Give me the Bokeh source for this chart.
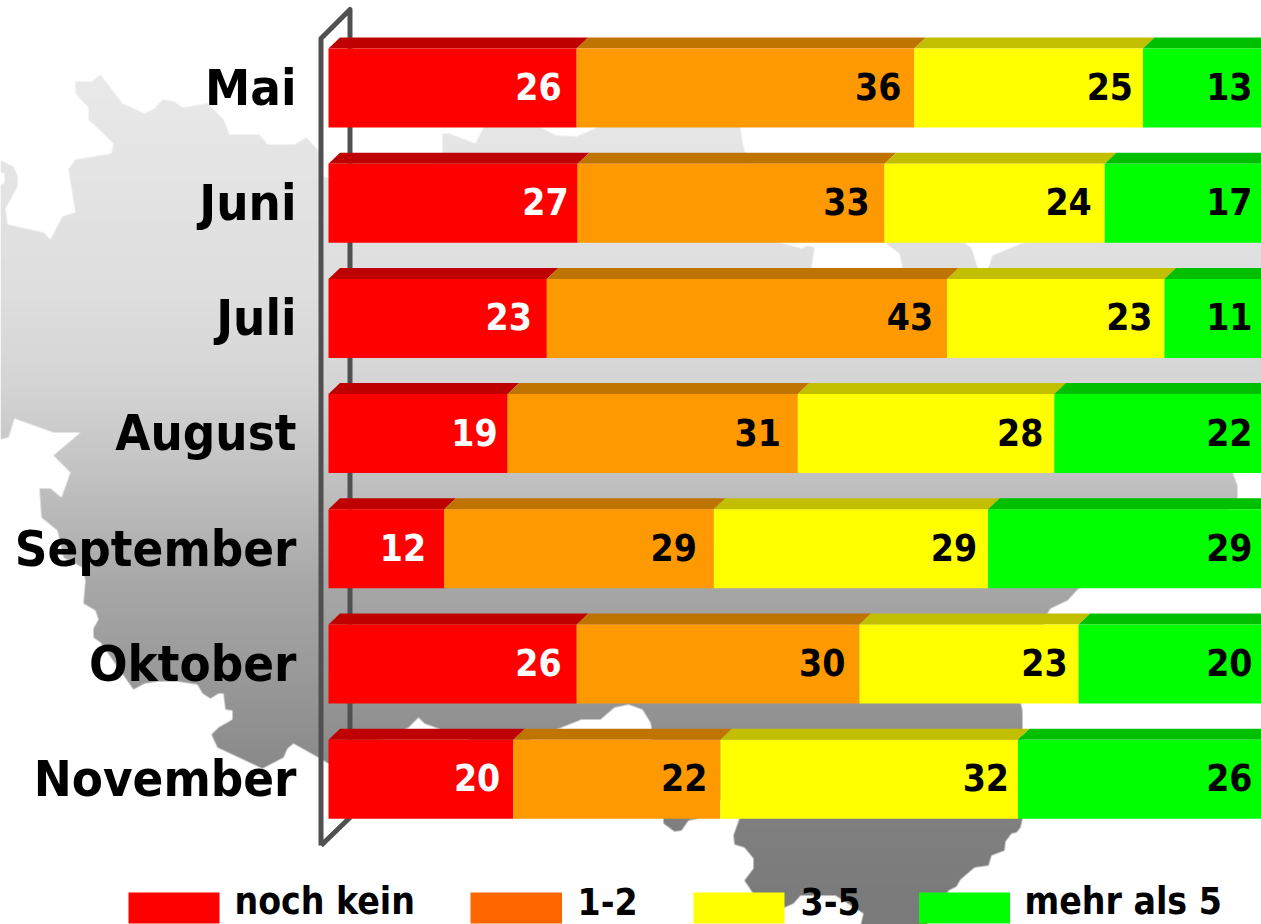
import numpy as np
from bokeh.plotting import figure
from bokeh.models import Range1d
from bokeh.core.properties import value
from bokeh.embed import file_html
from bokeh.resources import INLINE

months = ["Mai", "Juni", "Juli", "August", "September", "Oktober", "November"]
series_names = ["noch kein", "1-2", "3-5", "mehr als 5"]

# segment lengths as drawn (percent of the bar)
noch_kein = [26.6, 26.7, 23.4, 19.2, 12.4, 26.6, 19.8]
eins_zwei = [36.2, 32.9, 42.9, 31.1, 28.9, 30.3, 22.2]
drei_fuenf = [24.5, 23.6, 23.3, 27.5, 29.4, 23.5, 31.9]
mehr_fuenf = [12.7, 16.8, 10.4, 22.2, 29.3, 19.6, 26.1]

# printed labels
lab_noch_kein = [26, 27, 23, 19, 12, 26, 20]
lab_eins_zwei = [36, 33, 43, 31, 29, 30, 22]
lab_drei_fuenf = [25, 24, 23, 28, 29, 23, 32]
lab_mehr_fuenf = [13, 17, 11, 22, 29, 20, 26]

front_colors = ["#FF0000", "#FF9900", "#FFFF00", "#00FF00"]
top_colors = ["#BF0000", "#BF7300", "#C2BF00", "#00BF00"]
legend_colors = ["#FF0000", "#FF6600", "#FFFF00", "#00FF00"]

FONT = "DejaVu Sans Condensed"
W, H = 1261, 924
X0, PX_PER_PCT = 328.0, 9.33
Y0, PX_PER_ROW = 87.5, 115.2
BAR_H = 79 / PX_PER_ROW
DX_TOP, DY_TOP = 11.5 / PX_PER_PCT, 11 / PX_PER_ROW
BASELINE_FIX = 0.39  # em, lifts the text onto its baseline in the svg output

# gap between a value label and the end of its segment, in pixels
label_gaps = [
    [15, 9, 15, 10, 18, 15, 13],
    [13, 15, 14, 17, 17, 14, 13],
    [10, 13, 12, 11, 11, 11, 9],
    [9, 9, 9, 9, 9, 9, 9],
]

# decorative map silhouette, in page pixels
map_outline = [
    (75,81),(91,81),(100,74),(122,103),(144,113),(154,108),(162,99),(174,101),(182,107),(207,103),
    (223,119),(229,134),(259,134),(267,144),(294,144),(306,137),(318,150),(323,177),(345,177),(430,165),
    (442,153),(442,133),(449,133),(475,143),(483,127),(490,100),(530,100),(540,127),(556,135),(576,136),
    (597,127),(620,100),(700,100),(740,127),(742,143),(745,153),(760,200),(776,241),(801,248),(807,245),
    (814,247),(811,267),(815,300),(880,300),(902,267),(899,253),(883,241),(885,220),(940,220),(963,241),
    (971,248),(977,267),(981,280),(985,280),(988,267),(992,255),(1026,241),(1100,215),(1270,200),(1270,440),
    (1232,472),(1237,485),(1237,497),(1200,560),(1078,588),(1067,600),(1050,608),(1047,613),(1030,660),(1020,702),
    (1022,710),(1022,818),(1020,827),(1016,832),(1011,833),(1005,841),(1004,850),(991,855),(988,865),(974,867),
    (960,879),(956,886),(948,890),(947,892),(930,910),(925,930),(859,930),(863,913),(835,895),(800,895),
    (793,903),(784,907),(760,900),(752,892),(744,880),(753,868),(753,858),(744,847),(734,844),(733,835),
    (739,818),(735,800),(700,800),(698,818),(688,820),(681,830),(674,831),(663,823),(663,818),(655,770),
    (651,727),(650,722),(642,709),(628,704),(614,707),(600,719),(581,719),(561,727),(500,750),(435,727),
    (424,723),(418,717),(408,727),(370,745),(328,763),(318,757),(293,743),(287,748),(283,757),(262,768),
    (217,747),(211,734),(218,727),(232,719),(232,710),(225,709),(223,693),(218,693),(210,698),(202,693),
    (197,684),(177,681),(157,681),(144,683),(133,689),(100,642),(93,637),(93,628),(98,619),(95,610),
    (83,603),(85,580),(82,567),(63,557),(57,530),(41,517),(39,488),(50,488),(61,497),(70,472),
    (53,455),(80,432),(53,432),(14,418),(8,437),(-5,440),(-5,186),(4,183),(4,173),(-5,170),
    (-5,160),(0,160),(13,166),(17,175),(17,186),(5,208),(7,224),(43,232),(50,239),(62,216),(75,212),
    (68,169),(75,159),(111,153),(113,143),(88,119),(88,107),(75,93),
]
grad_y = [80, 300, 383, 472, 587, 702, 830, 924]
grad_v = [233, 222, 213, 195, 167, 149, 127, 122]


def raster_map():
    pts = np.array(map_outline, float)
    a, b = pts, np.roll(pts, -1, axis=0)
    cov = np.zeros((H, W))
    sub = 3
    for row in range(H):
        for s in range(sub):
            y = row + (s + 0.5) / sub
            hit = (a[:, 1] <= y) != (b[:, 1] <= y)
            if not hit.any():
                continue
            xs = a[hit, 0] + (y - a[hit, 1]) * (b[hit, 0] - a[hit, 0]) / (b[hit, 1] - a[hit, 1])
            xs = np.sort(xs)
            for l, r in zip(xs[::2], xs[1::2]):
                l, r = max(l, 0.0), min(r, float(W))
                if r <= l:
                    continue
                il, ir = int(l), min(int(r), W - 1)
                if il == ir:
                    cov[row, il] += (r - l) / sub
                else:
                    cov[row, il] += (il + 1 - l) / sub
                    cov[row, il + 1:ir] += 1 / sub
                    cov[row, ir] += (r - ir) / sub
    v = np.interp(np.arange(H) + 0.5, grad_y, grad_v)
    gray = v.astype(np.uint32)[:, None]
    alpha = (np.clip(cov, 0, 1) * 255).astype(np.uint32)
    img = (alpha << 24) | (gray << 16) | (gray << 8) | gray
    return img[::-1]


p = figure(
    width=W, height=H, output_backend="svg", toolbar_location=None,
    x_range=Range1d((0 - X0) / PX_PER_PCT, (W - X0) / PX_PER_PCT),
    y_range=Range1d((H - Y0) / PX_PER_ROW, (0 - Y0) / PX_PER_ROW),
    min_border=0, outline_line_color=None, x_axis_location=None, y_axis_location=None,
)
p.xgrid.visible = False
p.ygrid.visible = False
p.extra_x_ranges["px"] = Range1d(0, W)
p.extra_y_ranges["px"] = Range1d(0, H)  # measured upward from the page bottom

# map
p.image_rgba(image=[raster_map()], x=0, y=0, dw=W, dh=H, x_range_name="px", y_range_name="px")

# 3-D frame of the chart
frame_xs = [320.5, 320.5, 349.5, 349.5, 320.5]
frame_ys = [H - 845, H - 38, H - 9, H - 817, H - 845]
p.line(frame_xs, frame_ys, line_color="#505050", line_width=5, line_join="round",
       x_range_name="px", y_range_name="px")

# month labels
rows = list(range(len(months)))
p.text([296] * 7, [H - (Y0 + PX_PER_ROW * r + 19) for r in rows], text=months,
       y_offset=-BASELINE_FIX * 50.5,
       text_font=value(FONT), text_font_style="bold", text_font_size="50.5px",
       text_align="right", text_baseline="alphabetic", text_color="black",
       x_range_name="px", y_range_name="px")

# bars
series = [noch_kein, eins_zwei, drei_fuenf, mehr_fuenf]
labels = [lab_noch_kein, lab_eins_zwei, lab_drei_fuenf, lab_mehr_fuenf]
left = np.zeros(7)
for k, vals in enumerate(series):
    right = left + np.array(vals)
    top_xs, top_ys = [], []
    for r in rows:
        t = r - BAR_H / 2
        top_xs.append([left[r], right[r], right[r] + DX_TOP, left[r] + DX_TOP])
        top_ys.append([t, t, t - DY_TOP, t - DY_TOP])
    p.patches(top_xs, top_ys, fill_color=top_colors[k], line_color=None)
    p.quad(left=left, right=right, top=[r - BAR_H / 2 for r in rows], bottom=[r + BAR_H / 2 for r in rows],
           fill_color=front_colors[k], line_color=None)
    left = right

left = np.zeros(7)
for k, vals in enumerate(series):
    right = left + np.array(vals)
    p.text(right, rows, text=[str(v) for v in labels[k]],
           x_offset=[-g for g in label_gaps[k]], y_offset=13 - BASELINE_FIX * 37,
           text_font=value(FONT), text_font_style="bold", text_font_size="37px",
           text_align="right", text_baseline="alphabetic",
           text_color="white" if k == 0 else "black")
    left = right

# legend
leg_l = [128, 470, 693, 918.5]
leg_r = [219, 561.5, 784, 1009.5]
leg_t = [234, 577, 800, 1024]
p.quad(left=leg_l, right=leg_r, top=[H - 892] * 4, bottom=[H - 923] * 4,
       fill_color=legend_colors, line_color=None, x_range_name="px", y_range_name="px")
p.text(leg_t, [H - 915] * 4, text=series_names, y_offset=-BASELINE_FIX * 37,
       text_font=value(FONT), text_font_style="bold", text_font_size="37px",
       text_align="left", text_baseline="alphabetic", text_color="black",
       x_range_name="px", y_range_name="px")

open("out.html", "w").write(file_html(p, INLINE))
